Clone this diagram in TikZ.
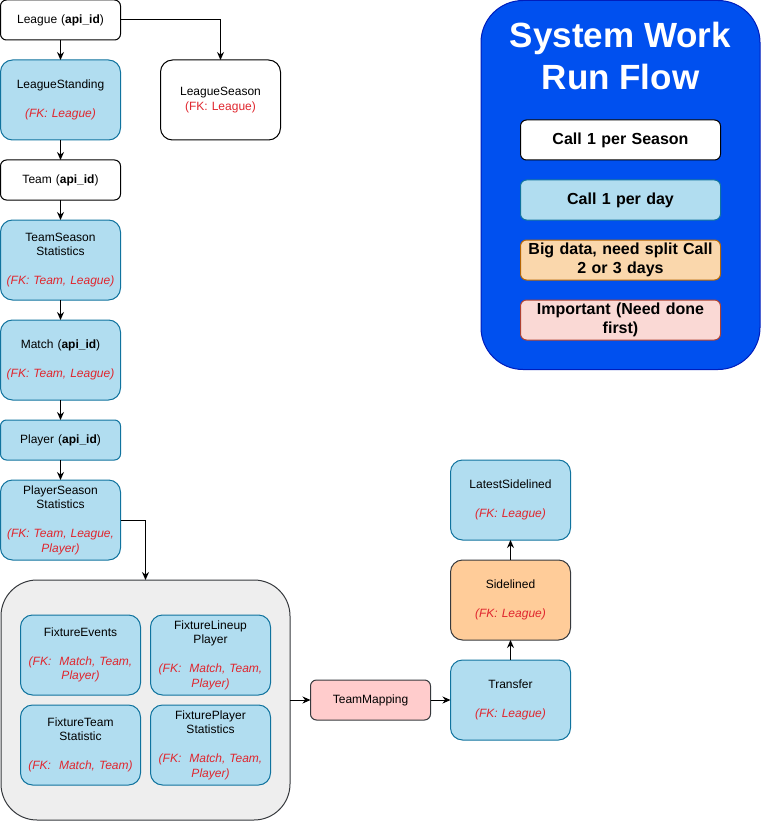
\documentclass[tikz,border=0pt]{standalone}
\usepackage{fontspec}
\setmainfont{Liberation Sans}
\usetikzlibrary{positioning,arrows.meta}

\definecolor{bluefill}{HTML}{B1DDF0}
\definecolor{bluedraw}{HTML}{10739E}
\definecolor{orangefill}{HTML}{FFCC99}
\definecolor{pinkfill}{HTML}{FFCCCC}
\definecolor{darkline}{HTML}{36393D}
\definecolor{greyfill}{HTML}{EEEEEE}
\definecolor{legendfill}{HTML}{0050EF}
\definecolor{legenddraw}{HTML}{001DBC}
\definecolor{keyorange}{HTML}{FAD7AC}
\definecolor{keyorangedraw}{HTML}{B46504}
\definecolor{keypink}{HTML}{FAD9D5}
\definecolor{keypinkdraw}{HTML}{AE4132}
\definecolor{fkred}{HTML}{E0262E}

\newcommand{\fk}[1]{\textcolor{fkred}{\textit{#1}}}

\begin{document}
\begin{tikzpicture}[x=1pt, y=-1pt, node distance={20pt}, line width=1pt,
  main/.style = {draw, rectangle, rounded corners=6pt, minimum height=40pt, text width=114pt,
    inner xsep=3pt, inner ysep=0pt, outer sep=0pt, align=center, font=\fontsize{12}{14.5}\selectfont},
  tall/.style = {main, minimum height=80pt, rounded corners=12pt},
  season/.style = {fill=white},
  daily/.style = {fill=bluefill, draw=bluedraw},
  bigdata/.style = {fill=orangefill, draw=darkline},
  first/.style = {fill=pinkfill, draw=darkline},
  key/.style = {main, text width=194pt, font=\bfseries\fontsize{16}{19.5}\selectfont},
  link/.style = {-{Stealth[length=8pt,width=7pt]}}]
\useasboundingbox (0,0) rectangle (761,821);

% main chain
\node[main, season] (league) at (60.5,20) {League (\textbf{api\_id})};
\node[tall, daily] (standing) [below=of league] {LeagueStanding\\[14.5pt]\fk{(FK: League)}};
\node[main, season] (team) [below=of standing] {Team (\textbf{api\_id})};
\node[tall, daily] (teamstats) [below=of team] {TeamSeason\\Statistics\\[14.5pt]\fk{(FK: Team, League)}};
\node[tall, daily] (match) [below=of teamstats] {Match (\textbf{api\_id})\\[14.5pt]\fk{(FK: Team, League)}};
\node[main, daily] (player) [below=of match] {Player (\textbf{api\_id})};
\node[tall, daily] (playerstats) [below=of player] {PlayerSeason\\Statistics\\[14.5pt]\fk{(FK: Team, League,}\\\fk{Player)}};
\node[tall, season] (leagueseason) at (220.5,100) {LeagueSeason\\\textcolor{fkred}{(FK: League)}};

% fixtures group
\node[draw=darkline, fill=greyfill, rounded corners=36pt, minimum width=289pt, minimum height=240pt, outer sep=0pt] (fixtures) at (145.5,700) {};
\node[tall, daily] (events) at (80.5,655) {FixtureEvents\\[14.5pt]\fk{(FK:~ Match, Team,}\\\fk{Player)}};
\node[tall, daily] (lineup) at (210.5,655) {FixtureLineup\\Player\\[14.5pt]\fk{(FK:~ Match, Team,}\\\fk{Player)}};
\node[tall, daily] (teamstat) at (80.5,745) {FixtureTeam\\Statistic\\[14.5pt]\fk{(FK:~ Match, Team)}};
\node[tall, daily] (playerfix) at (210.5,745) {FixturePlayer\\Statistics\\[14.5pt]\fk{(FK:~ Match, Team,}\\\fk{Player)}};

% right branch
\node[main, first] (mapping) at (370.5,700) {TeamMapping};
\node[tall, daily] (transfer) at (510.5,700) {Transfer\\[14.5pt]\fk{(FK: League)}};
\node[tall, bigdata] (sidelined) [above=of transfer] {Sidelined\\[14.5pt]\fk{(FK: League)}};
\node[tall, daily] (latest) [above=of sidelined] {LatestSidelined\\[14.5pt]\fk{(FK: League)}};

% legend
\node[draw=legenddraw, fill=legendfill, rounded corners=42pt, minimum width=279pt, minimum height=369pt, outer sep=0pt] (legend) at (620.5,185) {};
\node[text=white, align=center, font=\bfseries\fontsize{35}{42}\selectfont] (title) at (620.5,56) {System Work\\Run Flow};
\node[key, season] (keyseason) at (620.5,140) {Call 1 per Season};
\node[key, daily] (keyday) [below=of keyseason] {Call 1 per day};
\node[key, fill=keyorange, draw=keyorangedraw] (keybig) [below=of keyday] {Big data, need split Call\\2 or 3 days};
\node[key, fill=keypink, draw=keypinkdraw] (keyfirst) [below=of keybig] {Important (Need done\\first)};

\draw[link] (league) -- (standing);
\draw[link] (league.east) -| (leagueseason.north);
\draw[link] (standing) -- (team);
\draw[link] (team) -- (teamstats);
\draw[link] (teamstats) -- (match);
\draw[link] (match) -- (player);
\draw[link] (player) -- (playerstats);
\draw[link] (playerstats.east) -| (fixtures.north);
\draw[link] (fixtures) -- (mapping);
\draw[link] (mapping) -- (transfer);
\draw[link] (transfer) -- (sidelined);
\draw[link] (sidelined) -- (latest);
\end{tikzpicture}
\end{document}
